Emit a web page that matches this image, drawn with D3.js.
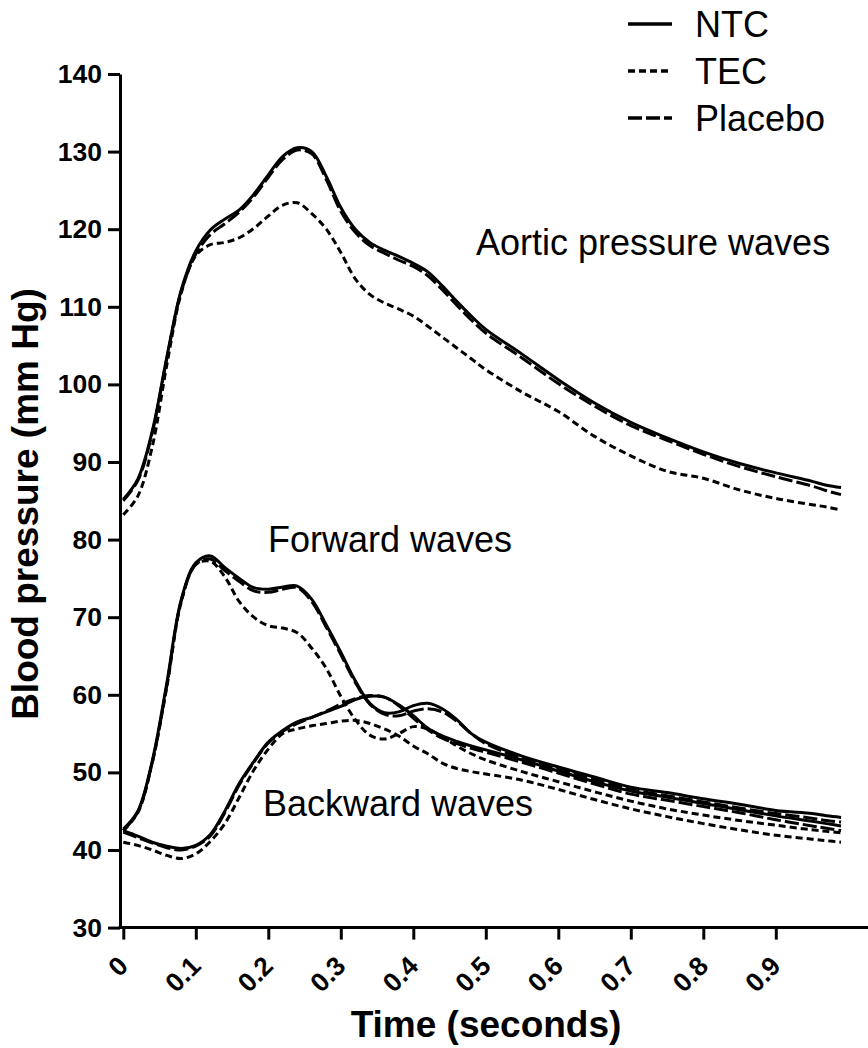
<!DOCTYPE html>
<html>
<head>
<meta charset="utf-8">
<script src="https://cdn.jsdelivr.net/npm/d3@7"></script>
<style>
  body { margin: 0; background: #fff; }
  svg { display: block; font-family: "Liberation Sans", Arial, sans-serif; }
</style>
</head>
<body>
<svg id="chart" width="868" height="1048"></svg>
<script>
// time grid (seconds) shared by every series
const times = [0, 0.02, 0.04, 0.06, 0.08, 0.10, 0.12, 0.14, 0.16, 0.18, 0.20, 0.22, 0.24, 0.26, 0.28, 0.30,
  0.32, 0.34, 0.36, 0.38, 0.40, 0.42, 0.44, 0.46, 0.48, 0.50, 0.55, 0.60, 0.65, 0.70, 0.75, 0.80, 0.85,
  0.90, 0.95, 0.97, 0.99];

// aortic pressure waves
const aorticNTC = [85.2, 87.8, 94.0, 103.5, 112.2, 117.2, 119.9, 121.3, 122.5, 124.5, 127.0, 129.4, 130.5, 130.0,
  126.8, 122.8, 120.0, 118.3, 117.3, 116.5, 115.6, 114.5, 112.7, 110.7, 108.8, 107.1, 103.9, 100.6, 97.6,
  95.1, 93.1, 91.3, 89.8, 88.6, 87.5, 87.0, 86.7];
const aorticTEC = [83.2, 85.6, 92.0, 102.5, 111.8, 116.6, 118.0, 118.3, 118.9, 120.1, 121.7, 123.1, 123.4, 122.0,
  120.0, 117.0, 113.6, 111.6, 110.5, 109.7, 108.8, 107.5, 106.1, 104.7, 103.3, 101.9, 99.0, 96.5, 93.3,
  90.8, 88.8, 87.9, 86.4, 85.3, 84.5, 84.2, 83.8];
const aorticPlacebo = [85.0, 87.6, 93.8, 103.3, 112.0, 116.8, 119.3, 120.7, 122.2, 124.2, 126.7, 129.0, 130.2, 129.7,
  126.4, 122.3, 119.6, 117.9, 116.9, 116.0, 115.2, 114.0, 112.2, 110.2, 108.3, 106.6, 103.4, 100.1, 97.2,
  94.7, 92.8, 91.0, 89.4, 88.1, 86.9, 86.3, 85.8];

// forward waves
const forwardNTC = [42.7, 45.0, 51.5, 61.5, 72.3, 77.0, 77.9, 76.4, 75.0, 73.8, 73.6, 73.9, 74.0, 72.3,
  69.0, 65.5, 61.8, 58.9, 57.7, 57.8, 58.6, 58.9, 58.2, 56.8, 55.0, 53.9, 52.1, 50.7, 49.4,
  48.1, 47.4, 46.6, 45.9, 45.1, 44.7, 44.4, 44.2];
const forwardTEC = [42.5, 44.8, 51.3, 61.0, 72.0, 76.8, 77.2, 75.2, 72.0, 70.0, 68.9, 68.6, 68.0, 66.0,
  63.4, 59.8, 56.8, 54.8, 54.3, 55.0, 55.9, 55.6, 54.6, 53.4, 52.4, 51.6, 50.1, 48.8, 47.5,
  46.3, 45.3, 44.5, 43.8, 43.2, 42.6, 42.4, 42.2];
const forwardPlacebo = [42.5, 44.9, 51.3, 61.2, 72.1, 76.8, 77.5, 76.0, 74.6, 73.4, 73.2, 73.6, 73.8, 72.0,
  68.7, 65.2, 61.6, 58.8, 57.5, 57.3, 57.9, 58.2, 57.8, 56.6, 55.0, 53.7, 51.8, 50.4, 49.1,
  47.8, 47.0, 46.2, 45.4, 44.7, 44.1, 43.8, 43.6];

// backward waves
const backwardNTC = [42.5, 41.8, 41.0, 40.5, 40.2, 40.6, 42.0, 45.0, 48.6, 51.4, 53.9, 55.4, 56.5, 57.1,
  57.8, 58.5, 59.4, 59.8, 59.7, 58.7, 57.3, 55.7, 54.7, 54.0, 53.4, 52.9, 51.6, 50.2, 48.8,
  47.6, 46.8, 46.0, 45.2, 44.4, 43.7, 43.4, 43.1];
const backwardTEC = [41.0, 40.6, 40.0, 39.3, 38.9, 39.5, 41.1, 43.4, 46.8, 50.3, 53.0, 55.0, 55.6, 56.0,
  56.3, 56.6, 56.7, 56.3, 55.6, 54.7, 53.4, 52.4, 51.2, 50.5, 50.1, 49.8, 49.0, 47.8, 46.5,
  45.3, 44.3, 43.4, 42.6, 41.9, 41.4, 41.2, 41.0];
const backwardPlacebo = [42.3, 41.6, 40.9, 40.3, 40.0, 40.5, 41.8, 44.8, 48.4, 51.3, 53.8, 55.3, 56.3, 57.1,
  57.9, 58.8, 59.5, 59.9, 59.7, 58.6, 57.0, 55.5, 54.4, 53.7, 53.1, 52.6, 51.3, 49.9, 48.5,
  47.2, 46.4, 45.6, 44.8, 43.9, 43.1, 42.8, 42.5];

const groups = ["NTC", "TEC", "Placebo"];
const xTicks = [0, 0.1, 0.2, 0.3, 0.4, 0.5, 0.6, 0.7, 0.8, 0.9];
const yTicks = [30, 40, 50, 60, 70, 80, 90, 100, 110, 120, 130, 140];

// line style per group
const dashes = { "NTC": null, "TEC": "7,4", "Placebo": "14,4" };

const svg = d3.select("#chart");

const x = d3.scaleLinear().domain([0, 1]).range([123.3, 848.3]);
const y = d3.scaleLinear().domain([30, 140]).range([927.6, 74]);
const axisX = 120;

// y axis
const yAxis = svg.append("g")
  .attr("transform", "translate(" + axisX + ",0)")
  .call(d3.axisLeft(y).tickValues(yTicks).tickSize(12).tickSizeOuter(0).tickPadding(6).tickFormat(d3.format("d")));
yAxis.select(".domain").attr("stroke-width", 3);
yAxis.selectAll(".tick line").attr("stroke-width", 3);
yAxis.selectAll(".tick text").attr("font-size", 26.5).attr("font-weight", "bold").attr("fill", "#000");

// x axis (line runs past the last tick to the edge)
const xAxis = svg.append("g")
  .attr("transform", "translate(0," + y(30) + ")")
  .call(d3.axisBottom(x).tickValues(xTicks).tickSize(12).tickSizeOuter(0)
    .tickFormat((d) => d === 0 ? "0" : d.toFixed(1)));
xAxis.select(".domain").remove();
xAxis.append("line")
  .attr("x1", axisX - 1.5).attr("x2", 868)
  .attr("stroke", "#000").attr("stroke-width", 3);
xAxis.selectAll(".tick line").attr("stroke-width", 3);
xAxis.selectAll(".tick text")
  .attr("font-size", 26.5).attr("font-weight", "bold").attr("fill", "#000")
  .attr("text-anchor", "end")
  .attr("dy", null)
  .attr("y", null)
  .attr("transform", "translate(6,40) rotate(-45)");

// axis titles
svg.append("text")
  .attr("x", 486).attr("y", 1037)
  .attr("text-anchor", "middle")
  .attr("font-size", 37).attr("font-weight", "bold")
  .text("Time (seconds)");

svg.append("text")
  .attr("transform", "translate(38,504) rotate(-90)")
  .attr("text-anchor", "middle")
  .attr("font-size", 37).attr("font-weight", "bold")
  .text("Blood pressure (mm Hg)");

// curves
const line = d3.line()
  .x((d) => x(d[0]))
  .y((d) => y(d[1]))
  .curve(d3.curveCatmullRom.alpha(0.5));

const series = [
  { group: "TEC", values: aorticTEC },
  { group: "TEC", values: forwardTEC },
  { group: "TEC", values: backwardTEC },
  { group: "Placebo", values: aorticPlacebo },
  { group: "Placebo", values: forwardPlacebo },
  { group: "Placebo", values: backwardPlacebo },
  { group: "NTC", values: aorticNTC },
  { group: "NTC", values: forwardNTC },
  { group: "NTC", values: backwardNTC }
];

svg.append("g").selectAll("path")
  .data(series)
  .enter()
  .append("path")
  .attr("d", (s) => line(times.map((t, i) => [t, s.values[i]])))
  .attr("fill", "none")
  .attr("stroke", "#000")
  .attr("stroke-width", 3)
  .attr("stroke-dasharray", (s) => dashes[s.group]);

// wave labels
const labels = [
  { text: "Aortic pressure waves", x: 476, y: 255 },
  { text: "Forward waves", x: 268, y: 552 },
  { text: "Backward waves", x: 263, y: 816 }
];
svg.append("g").selectAll("text")
  .data(labels)
  .enter()
  .append("text")
  .attr("x", (d) => d.x)
  .attr("y", (d) => d.y)
  .attr("font-size", 36)
  .text((d) => d.text);

// legend
const legend = svg.append("g").selectAll("g")
  .data(groups)
  .enter()
  .append("g")
  .attr("transform", (d, i) => "translate(0," + (24 + i * 47) + ")");

legend.append("line")
  .attr("x1", 628).attr("x2", 672)
  .attr("stroke", "#000").attr("stroke-width", 3.5)
  .attr("stroke-dasharray", (d) => dashes[d]);

legend.append("text")
  .attr("x", 695).attr("y", 13)
  .attr("font-size", 36)
  .text((d) => d);
</script>
</body>
</html>
